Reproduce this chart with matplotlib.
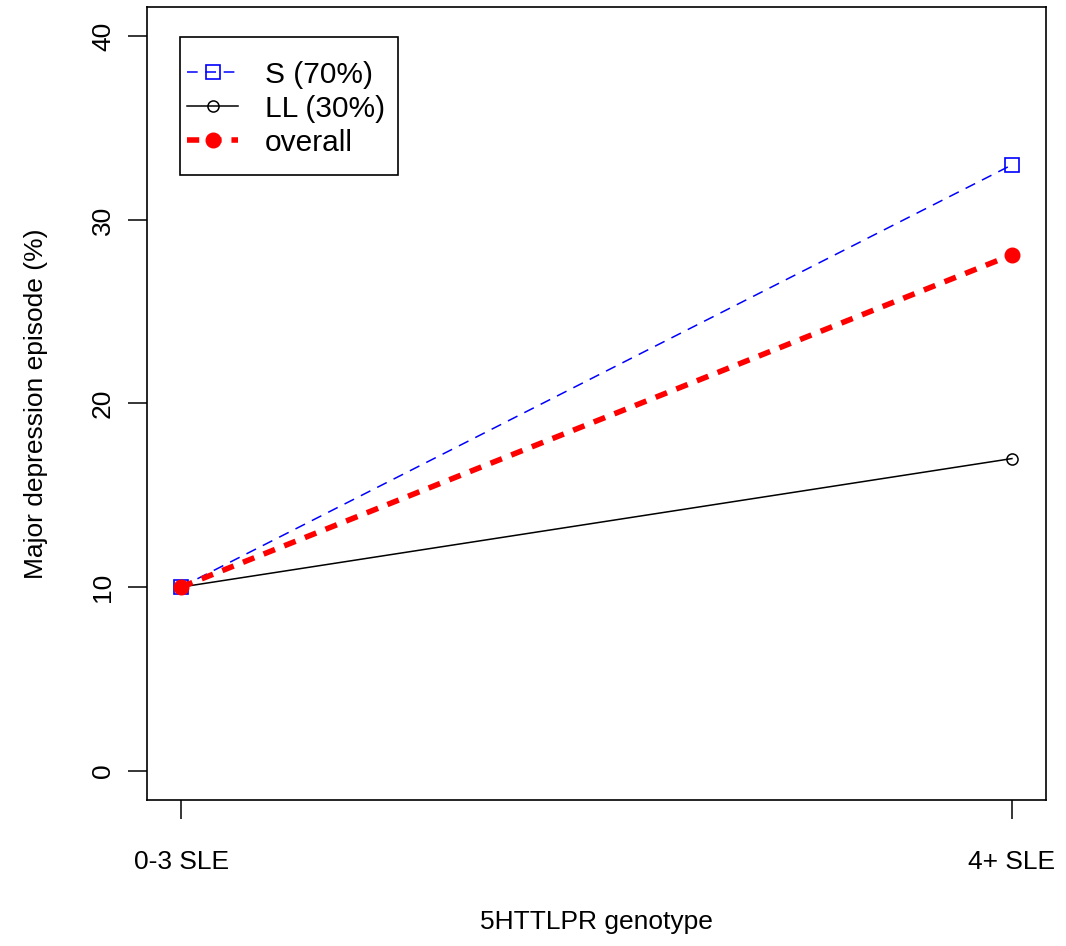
import matplotlib
matplotlib.use("Agg")
import matplotlib.pyplot as plt
from matplotlib.patches import Rectangle

plt.rcParams['font.family'] = ['Liberation Sans', 'DejaVu Sans']

# data
x_pos = [1, 2]
x_labels = ['0-3 SLE', '4+ SLE']
s_vals = [10, 33]
ll_vals = [10, 17]
overall_vals = [10, 28.1]

fig = plt.figure(figsize=(10.66, 9.46), dpi=100)
ax = fig.add_axes([147/1066, 146/946, 899/1066, 793/946])

ax.plot(x_pos, s_vals, color='blue', linestyle=(0, (7, 5)), linewidth=1.1,
        marker='s', markersize=10, markerfacecolor='none', markeredgecolor='blue',
        markeredgewidth=1.2, label='S (70%)')
ax.plot(x_pos, ll_vals, color='black', linestyle='-', linewidth=1.1,
        marker='o', markersize=8, markerfacecolor='none', markeredgecolor='black',
        markeredgewidth=1.1, label='LL (30%)')
ax.plot(x_pos, overall_vals, color='red', linestyle=(0, (2.2, 1.8)), linewidth=4,
        marker='o', markersize=10.5, markerfacecolor='red', markeredgecolor='red',
        label='overall')

ax.set_xlim(0.959, 2.041)
ax.set_ylim(-1.6, 41.6)
ax.set_xticks(x_pos)
ax.set_xticklabels(x_labels)
ax.set_yticks([0, 10, 20, 30, 40])
for lab in ax.get_yticklabels():
    lab.set_rotation(90)
    lab.set_verticalalignment('center')
ax.tick_params(axis='both', labelsize=19, length=14, width=1.1, pad=22)
ax.tick_params(axis='y', pad=9)

for sp in ax.spines.values():
    sp.set_linewidth(1.2)

ax.set_xlabel('5HTTLPR genotype', fontsize=19, labelpad=26)
ax.set_ylabel('Major depression episode (%)', fontsize=19, labelpad=31)

# legend (frame drawn separately so it gets R-like vertical padding)
leg = ax.legend(loc='upper left', bbox_to_anchor=(0.0380, 0.9395), fontsize=21.5,
                frameon=False, handlelength=1.7, handletextpad=0.9, borderpad=0.2,
                labelspacing=0.2, borderaxespad=0)
ax.add_patch(Rectangle((0.0367, 0.7881), 0.2425, 0.1741, transform=ax.transAxes,
                       facecolor='none', edgecolor='black', linewidth=1.2, zorder=5))

fig.savefig('out.png', dpi=100)
